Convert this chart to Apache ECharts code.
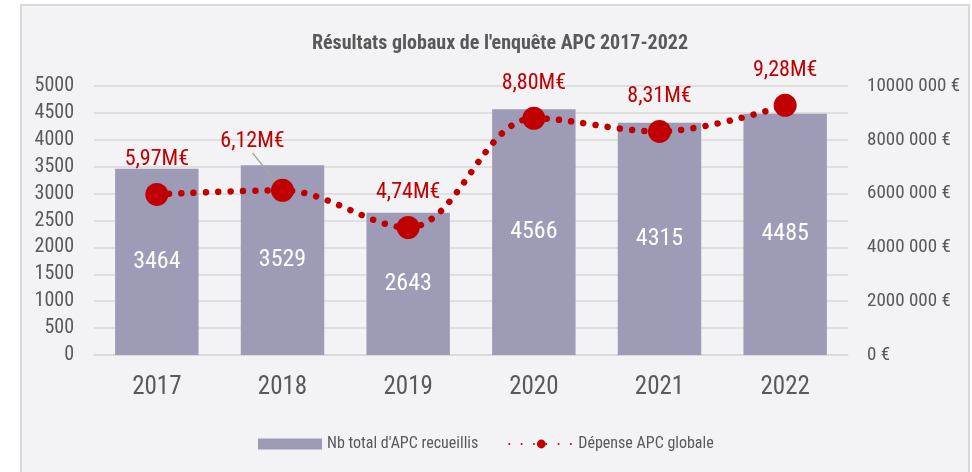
<!DOCTYPE html>
<html>
<head>
<meta charset="utf-8">
<script src="https://cdn.jsdelivr.net/npm/echarts@6/dist/echarts.min.js"></script>
<style>
  html, body { margin: 0; padding: 0; background: #ffffff; }
  #chart { width: 972px; height: 472px; }
</style>
</head>
<body>
<div id="chart"></div>
<script>
// ── Données ──────────────────────────────────────────────
const years      = ['2017', '2018', '2019', '2020', '2021', '2022']
const nbApc      = [3464, 3529, 2643, 4566, 4315, 4485]
const depense    = [5970000, 6120000, 4740000, 8800000, 8310000, 9280000]
const depenseLbl = ['5,97M€', '6,12M€', '4,74M€', '8,80M€', '8,31M€', '9,28M€']

const FONT = '"Roboto Condensed", "DejaVu Sans Condensed", sans-serif'
const GREY = '#595959'
const RED  = '#c00000'
const BAR  = '#9e9bb7'

const chart = echarts.init(document.getElementById('chart'), null, { renderer: 'canvas' })

chart.setOption({
  animation: false,
  backgroundColor: '#ffffff',
  textStyle: { fontFamily: FONT },
  graphic: [{
    type: 'rect',
    z: -1,
    shape: { x: 21, y: 5, width: 948, height: 475 },
    style: { fill: '#f3f3f6', stroke: '#d9d9d9', lineWidth: 2 },
  }],
  title: {
    text: "Résultats globaux de l'enquête APC 2017-2022",
    left: 495,
    top: 29,
    textAlign: 'center',
    textStyle: { fontFamily: FONT, fontSize: 20, fontWeight: 'bold', color: GREY },
  },
  legend: {
    left: 253,
    top: 431,
    itemWidth: 64,
    itemHeight: 11,
    itemGap: 30,
    textStyle: { fontFamily: FONT, fontSize: 16, color: GREY },
    data: [
      { name: "Nb total d'APC recueillis", icon: 'rect' },
      { name: 'Dépense APC globale' },
    ],
  },
  grid: { left: 94, right: 124, top: 86, bottom: 117 },
  xAxis: {
    type: 'category',
    data: years,
    axisLine: { lineStyle: { color: '#d9d9d9', width: 1.5 } },
    axisTick: { show: false },
    axisLabel: { fontFamily: FONT, fontSize: 25, color: GREY, margin: 20 },
  },
  yAxis: [
    {
      type: 'value',
      min: 0, max: 5000, interval: 500,
      axisLine: { show: false },
      axisTick: { show: false },
      axisLabel: {
        fontFamily: FONT, fontSize: 20, color: GREY, margin: 20,
        formatter: v => String(v),
      },
      splitLine: { lineStyle: { color: '#d9d9d9', width: 1.5 } },
    },
    {
      type: 'value',
      min: 0, max: 10000000, interval: 1000000,
      axisLine: { show: false },
      axisTick: { show: false },
      splitLine: { show: false },
      axisLabel: {
        fontFamily: FONT, fontSize: 19, color: GREY, margin: 19,
        formatter: v => {
          if (v === 0) return '0 €'
          if ((v / 1000000) % 2 !== 0) return ''
          return (v / 1000) + ' 000 €'
        },
      },
    },
  ],
  series: [
    {
      name: "Nb total d'APC recueillis",
      type: 'bar',
      data: nbApc,
      barCategoryGap: '33.6%',
      itemStyle: { color: BAR },
      label: {
        show: true,
        position: 'inside',
        color: '#ffffff',
        fontFamily: FONT,
        fontSize: 24,
      },
    },
    {
      name: 'Dépense APC globale',
      type: 'line',
      yAxisIndex: 1,
      smooth: 0.35,
      symbol: 'circle',
      symbolSize: 23,
      itemStyle: { color: RED },
      lineStyle: { color: RED, width: 6.5, type: [0.01, 12.3], cap: 'round' },
      data: depense.map((v, i) => (i === 1
        ? { value: v, labelLine: { show: true, lineStyle: { color: '#a6a6a6', width: 1.5 } } }
        : { value: v })),
      labelLayout: p => (p.dataIndex === 1 ? { dx: -30, dy: -14 } : {}),
      label: {
        show: true,
        position: 'top',
        distance: 12,
        color: RED,
        fontFamily: FONT,
        fontSize: 22,
        formatter: p => depenseLbl[p.dataIndex],
      },
    },
  ],
})
</script>
</body>
</html>
